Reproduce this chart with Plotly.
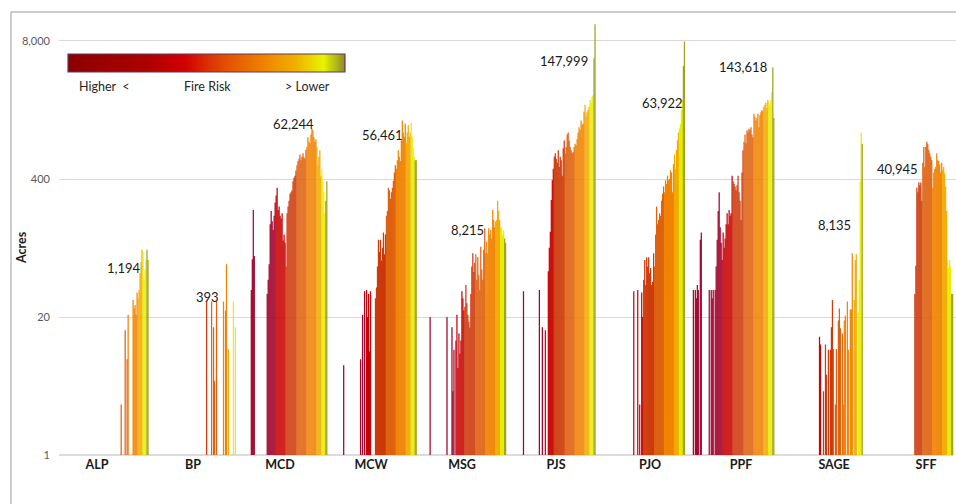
import plotly.graph_objects as go

# ---------------- data ----------------
categories = ["ALP", "BP", "MCD", "MCW", "MSG", "PJS", "PJO", "PPF", "SAGE", "SFF"]
totals = ["1,194", "393", "62,244", "56,461", "8,215", "147,999", "63,922", "143,618", "8,135", "40,945"]
bins_per_cat = 90  # fire-risk bins per vegetation type (0 = highest risk ... 89 = lowest)

# acres per fire-risk bin, listed from a starting bin; 0 = no acres in that bin
alp_start = 60
alp_acres = [0, 0, 3, 0, 0, 0, 15, 0, 8, 21, 0, 0, 0, 0, 29, 24, 26, 21, 34, 30,
             36, 52, 66, 86, 82, 45, 56, 70, 86, 69]

bp_start = 58
bp_acres = [28, 0, 0, 0, 0, 28, 0, 16, 5, 0, 28, 0, 0, 0, 0, 0, 0, 28, 0, 23,
            63, 0, 10, 0, 0, 0, 0, 28, 0, 16, 0, 0]

mcd_start = 13
mcd_acres = [36, 70, 204, 75, 0, 0, 0, 0, 0, 0, 0, 0, 0, 0, 0, 0,
             33, 45, 63, 150, 200, 160, 132, 180, 240, 280, 330, 204, 220, 180, 170, 190,
             105, 120, 100, 60, 190, 220, 250, 290, 300, 314, 380, 410, 430, 480, 540, 590,
             620, 680, 600, 650, 700, 640, 620, 750, 800, 990, 900, 870, 1050, 1190, 1150, 990,
             900, 950, 800, 540, 650, 745, 430, 500, 390, 300, 190, 250, 380]

mcw_start = 16
mcw_acres = [7, 0, 0, 0, 0, 0, 0, 0, 0, 0, 0, 0, 0, 0, 0, 0, 0,
             8, 0, 21, 0, 35, 0, 36, 20, 33, 9.5, 35, 0, 0, 0, 0,
             30, 38, 60, 107, 82, 107, 68, 90, 125, 78, 120, 180, 200, 330, 314, 260,
             300, 330, 385, 460, 540, 500, 600, 745, 650, 590, 925, 1425, 1100, 1000, 1330, 870,
             1100, 1290, 1000, 1100, 1350, 1000, 780, 650, 600, 600]

msg_start = 13
msg_acres = [20, 0, 0, 0, 0, 0, 0, 0, 0, 0, 0, 0, 0, 0, 0, 0, 0, 20, 0, 0, 0, 0,
             16, 4, 9.8, 0, 12, 21, 6.6, 14, 9, 12, 35, 30, 23, 25, 40, 27, 21, 18, 16, 33,
             60, 80, 53, 65, 78, 45, 73, 50, 36, 92, 56, 45, 86, 137, 80, 103, 80, 137, 120, 132,
             110, 204, 164, 140, 160, 164, 250, 200, 164, 140, 140, 120, 130, 110, 100]

pjs_start = 17
pjs_acres = [35, 0, 0, 0, 0, 0, 0, 0, 0, 0, 0, 0, 0, 0, 0, 0,
             36, 0, 0, 16, 0, 0, 15, 0, 0, 54, 90, 127, 253, 390, 500, 650,
             700, 620, 570, 745, 520, 650, 600, 430, 780, 925, 700, 800, 1050, 1100, 925, 800,
             745, 700, 720, 800, 860, 830, 950, 1100, 1230, 1150, 1425, 1300, 1330, 1730, 2000, 1550,
             1700, 1790, 1920, 2220, 2100, 2380, 2470, 5500, 11500]

pjo_start = 37
pjo_acres = [0, 35, 0, 0, 0, 36, 0, 3, 0, 34, 20, 45, 69, 40, 73, 60, 73, 52, 58, 40,
             43, 80, 60, 120, 220, 150, 164, 190, 180, 250, 290, 340, 300, 390, 360, 430, 390, 400,
             484, 460, 300, 550, 680, 500, 750, 925, 1100, 1200, 1330, 1790, 2220, 4650, 7900]

ppf_start = 8
ppf_acres = [36, 0, 36, 30, 40, 36, 0, 107, 125, 0, 0, 0, 0, 0, 0, 0,
             36, 0, 36, 30, 36, 0, 36, 60, 107, 200, 300, 140, 100, 69, 125, 90,
             110, 150, 190, 150, 204, 180, 190, 430, 380, 360, 340, 314, 350, 430, 300, 250,
             164, 460, 745, 900, 1050, 870, 1150, 1100, 1190, 1150, 1230, 1050, 990, 1650, 1550, 1425,
             1500, 1650, 1230, 1600, 1700, 1790, 1750, 1920, 2000, 2100, 1850, 2220, 2100, 2000, 2220, 2650,
             4500, 1500]

sage_start = 45
sage_acres = [13, 11, 0, 0, 4, 0, 11, 5.7, 0, 9.8, 0, 9.8, 16, 29, 10, 0, 3, 10, 0, 18.5,
              24, 15.7, 0, 14, 3, 18.5, 20.5, 0, 28, 9.8, 0, 23.5, 23.5, 80, 0, 29, 69, 78, 0, 22,
              45, 380, 1100, 860, 0]

sff_start = 51
sff_acres = [33, 61, 330, 300, 370, 350, 370, 250, 570, 800, 520, 800, 900, 860, 750, 700,
             650, 600, 330, 460, 500, 520, 700, 600, 590, 550, 460, 570, 484, 520, 450, 340,
             200, 69, 58, 69, 60, 33, 33]

series = [(alp_start, alp_acres), (bp_start, bp_acres), (mcd_start, mcd_acres),
          (mcw_start, mcw_acres), (msg_start, msg_acres), (pjs_start, pjs_acres),
          (pjo_start, pjo_acres), (ppf_start, ppf_acres), (sage_start, sage_acres),
          (sff_start, sff_acres)]

# ---------------- styling ----------------
# colour by distance from the lowest-risk end of each group
risk_steps = [(1, "rgba(160,160,32,0.99)"), (5, "rgba(230,238,0,0.99)"),
              (10, "rgba(242,170,0,0.99)"), (20, "rgba(240,130,0,0.99)"),
              (30, "rgba(222,96,14,0.99)"), (41, "rgba(204,56,8,0.99)"),
              (51, "rgba(200,0,0,0.99)"), (10**6, "rgba(160,0,42,0.99)")]


def risk_color(d):
    for lim, c in risk_steps:
        if d <= lim:
            return c
    return risk_steps[-1][1]


xs, ys, cs = [], [], []
for k, (start, vals) in enumerate(series):
    for i, v in enumerate(vals):
        if v > 0:
            s = start + i
            xs.append(k * bins_per_cat + s)
            ys.append(v)
            cs.append(risk_color(bins_per_cat - 1 - s))

FONT = "Lato"
fig = go.Figure()
fig.add_trace(go.Bar(x=xs, y=ys, width=1.25,
                     marker=dict(color=cs, line=dict(width=0)),
                     hoverinfo="skip", showlegend=False))

# colour legend bar
legend_scale = [[0, "#8B0000"], [0.3, "#B00000"], [0.42, "#D20000"], [0.55, "#E04800"],
                [0.7, "#F08000"], [0.82, "#F0B000"], [0.92, "#E6F400"], [1, "#8A8A2C"]]
gz = list(range(101))
fig.add_trace(go.Heatmap(z=[gz, gz], x=gz, y=[0, 1], colorscale=legend_scale,
                         showscale=False, zsmooth="best", xaxis="x2", yaxis="y2",
                         hoverinfo="skip"))

label_pos = [37.7, 134.3, 221.9, 313.5, 405.1, 499.8, 594.4, 686.0, 779.7, 872.3]
total_x = [65.3, 148.4, 235.5, 325.1, 410.7, 507.8, 606.5, 687.5, 779.6, 843.1]
total_y = [0.430, 0.363, 0.761, 0.736, 0.517, 0.906, 0.809, 0.893, 0.529, 0.658]

annotations = []
for t, x, y in zip(totals, total_x, total_y):
    annotations.append(dict(text=t, x=x, y=y, xref="x", yref="paper", showarrow=False,
                            font=dict(family=FONT, size=13, color="#1a1a1a"),
                            xanchor="center", yanchor="middle"))
for t, x in [("Higher\u00a0 <", 0.0502), ("Fire Risk", 0.1661), ("> Lower", 0.2765)]:
    annotations.append(dict(text=t, x=x, y=0.848, xref="paper", yref="paper", showarrow=False,
                            font=dict(family=FONT, size=12.5, color="#262626"),
                            xanchor="center", yanchor="middle"))
annotations.append(dict(text="<b>Acres</b>", x=-0.0412, y=0.476, xref="paper", yref="paper",
                        showarrow=False, textangle=-90,
                        font=dict(family=FONT, size=12.5, color="#1a1a1a"),
                        xanchor="center", yanchor="middle"))

shapes = [
    dict(type="rect", xref="paper", yref="paper", x0=0.01003, x1=0.3188, y0=0.8805, y1=0.9218,
         line=dict(color="#5E3A5E", width=1.2)),
    dict(type="line", xref="paper", yref="paper", x0=-0.0535, x1=1.0, y0=1.0184, y1=1.0184,
         line=dict(color="#9A9A9A", width=1)),
    dict(type="line", xref="paper", yref="paper", x0=-0.0535, x1=-0.0535, y0=-0.13, y1=1.0184,
         line=dict(color="#9A9A9A", width=1)),
    dict(type="line", xref="paper", yref="paper", x0=0, x1=0.997, y0=0, y1=0,
         line=dict(color="#D0D0D0", width=1.5), layer="below"),
]

fig.update_layout(
    width=956, height=504,
    margin=dict(l=59, r=0, t=20, b=49),
    paper_bgcolor="white", plot_bgcolor="white",
    bargap=0.05,
    showlegend=False,
    font=dict(family=FONT),
    xaxis=dict(range=[-0.6, 902.4], tickmode="array", tickvals=label_pos, ticktext=categories,
               showgrid=False, zeroline=False, showline=False, ticks="",
               tickfont=dict(family=FONT, size=12.5, color="#1a1a1a", weight="bold"),
               fixedrange=True),
    yaxis=dict(type="log", range=[0, 4.101], tickmode="array",
               tickvals=[1, 20, 400, 8000], ticktext=["1", "20", "400", "8,000"],
               gridcolor="#D9D9D9", gridwidth=1, showline=False, zeroline=False, ticks="",
               ticklabelstandoff=8,
               tickfont=dict(family=FONT, size=11, color="#595959"), fixedrange=True),
    xaxis2=dict(domain=[0.01003, 0.3188], anchor="y2", visible=False, range=[0, 100]),
    yaxis2=dict(domain=[0.8805, 0.9218], anchor="x2", visible=False, range=[0, 1]),
    annotations=annotations,
    shapes=shapes,
)

fig.write_html("out.html")
